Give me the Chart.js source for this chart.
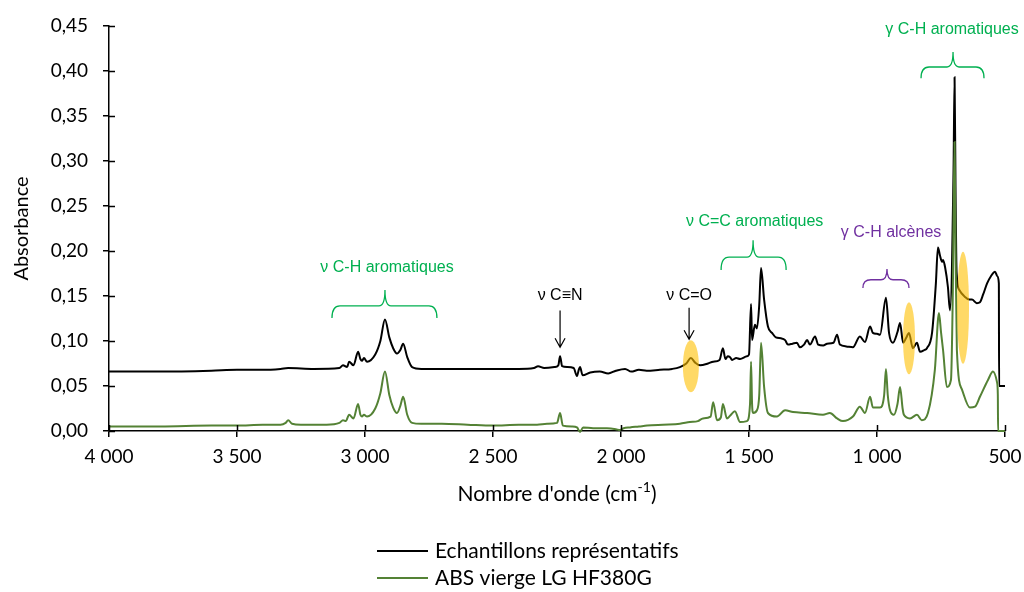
<!DOCTYPE html>
<html lang="fr">
<head>
  <meta charset="UTF-8">
  <title>Spectre IR</title>
  <script src="https://cdn.jsdelivr.net/npm/chart.js@4.4.1/dist/chart.umd.min.js"></script>
  <style>
    body { margin: 0; background: #fff; }
  </style>
</head>
<body>
  <canvas id="irChart" width="1024" height="592"></canvas>
  <script>
    // Echantillons représentatifs (noir)
    const blackWn = [4000, 3800, 3600, 3500, 3400, 3330, 3300, 3200, 3100, 3086, 3070, 3062, 3045, 3027, 3018, 3012, 3004, 2992, 2960, 2940, 2922, 2905, 2890, 2875, 2862, 2851, 2835, 2816, 2780, 2700, 2600, 2500, 2400, 2340, 2324, 2300, 2260, 2245, 2238, 2230, 2210, 2185, 2172, 2165, 2160, 2150, 2120, 2083, 2050, 2020, 1984, 1960, 1930, 1900, 1848, 1800, 1770, 1745, 1727, 1710, 1691, 1660, 1640, 1615, 1602, 1592, 1583, 1574, 1566, 1550, 1535, 1508, 1500, 1492, 1488, 1477, 1469, 1460, 1453, 1441, 1426, 1410, 1395, 1375, 1359, 1348, 1330, 1313, 1301, 1285, 1273, 1262, 1242, 1230, 1210, 1195, 1170, 1156, 1145, 1120, 1094, 1067, 1047, 1027, 1016, 1000, 988, 965, 953, 938, 920, 910, 898, 887, 875, 860, 844, 832, 815, 805, 785, 770, 762, 754, 746, 742, 734, 723, 715, 701, 697, 693, 689, 679, 656, 640, 629, 610, 598, 585, 570, 555, 539, 530, 524, 523, 500];
    const blackAbs = [0.066, 0.066, 0.067, 0.068, 0.068, 0.069, 0.070, 0.069, 0.070, 0.073, 0.071, 0.077, 0.073, 0.088, 0.080, 0.078, 0.081, 0.077, 0.085, 0.100, 0.124, 0.104, 0.092, 0.086, 0.090, 0.097, 0.082, 0.071, 0.069, 0.069, 0.069, 0.069, 0.069, 0.070, 0.072, 0.070, 0.071, 0.073, 0.083, 0.072, 0.071, 0.070, 0.061, 0.068, 0.071, 0.062, 0.065, 0.066, 0.064, 0.067, 0.069, 0.066, 0.068, 0.067, 0.068, 0.069, 0.071, 0.075, 0.081, 0.076, 0.073, 0.075, 0.077, 0.079, 0.092, 0.080, 0.083, 0.082, 0.079, 0.081, 0.080, 0.083, 0.085, 0.141, 0.101, 0.118, 0.114, 0.140, 0.181, 0.146, 0.116, 0.109, 0.104, 0.103, 0.101, 0.096, 0.097, 0.098, 0.093, 0.096, 0.101, 0.096, 0.105, 0.096, 0.095, 0.097, 0.098, 0.107, 0.096, 0.094, 0.093, 0.105, 0.099, 0.116, 0.109, 0.108, 0.107, 0.148, 0.109, 0.098, 0.110, 0.120, 0.098, 0.103, 0.109, 0.092, 0.098, 0.088, 0.090, 0.092, 0.109, 0.164, 0.204, 0.195, 0.188, 0.190, 0.182, 0.160, 0.134, 0.290, 0.393, 0.260, 0.176, 0.157, 0.149, 0.146, 0.146, 0.142, 0.143, 0.152, 0.164, 0.172, 0.177, 0.172, 0.164, 0.050, 0.050];

    // ABS vierge LG HF380G (vert)
    const greenWn = [4000, 3800, 3600, 3500, 3400, 3330, 3310, 3300, 3285, 3250, 3150, 3100, 3086, 3075, 3062, 3045, 3027, 3018, 3012, 3004, 2992, 2960, 2940, 2922, 2905, 2890, 2875, 2862, 2851, 2835, 2816, 2780, 2700, 2600, 2500, 2400, 2328, 2289, 2250, 2238, 2227, 2190, 2172, 2160, 2148, 2109, 2055, 2020, 2004, 1990, 1965, 1930, 1898, 1836, 1770, 1731, 1700, 1680, 1650, 1640, 1625, 1610, 1602, 1586, 1574, 1555, 1535, 1508, 1496, 1492, 1488, 1484, 1469, 1460, 1453, 1441, 1426, 1391, 1359, 1328, 1273, 1211, 1184, 1156, 1133, 1094, 1067, 1047, 1027, 1016, 988, 972, 965, 958, 949, 934, 920, 910, 900, 895, 871, 844, 825, 801, 774, 758, 750, 742, 727, 711, 704, 697, 693, 688, 668, 637, 617, 598, 566, 547, 531, 528, 527, 500];
    const greenAbs = [0.005, 0.005, 0.006, 0.006, 0.007, 0.007, 0.009, 0.012, 0.008, 0.007, 0.007, 0.009, 0.012, 0.011, 0.018, 0.014, 0.030, 0.018, 0.016, 0.018, 0.016, 0.025, 0.042, 0.066, 0.040, 0.026, 0.020, 0.028, 0.038, 0.018, 0.009, 0.008, 0.008, 0.007, 0.006, 0.007, 0.007, 0.008, 0.009, 0.020, 0.006, 0.005, 0.004, -0.001, 0.004, 0.003, 0.003, 0.002, 0.001, 0.003, 0.004, 0.005, 0.006, 0.007, 0.008, 0.010, 0.011, 0.014, 0.016, 0.032, 0.012, 0.015, 0.030, 0.014, 0.017, 0.022, 0.010, 0.011, 0.030, 0.077, 0.030, 0.020, 0.023, 0.040, 0.098, 0.049, 0.020, 0.016, 0.023, 0.021, 0.020, 0.018, 0.020, 0.014, 0.011, 0.016, 0.027, 0.020, 0.038, 0.026, 0.026, 0.040, 0.069, 0.040, 0.023, 0.018, 0.030, 0.049, 0.025, 0.018, 0.014, 0.018, 0.012, 0.020, 0.068, 0.131, 0.110, 0.090, 0.049, 0.057, 0.150, 0.321, 0.200, 0.090, 0.046, 0.026, 0.027, 0.038, 0.057, 0.066, 0.054, 0.040, 0.0, 0.0];

    const seriesLabels = ['Echantillons représentatifs', 'ABS vierge LG HF380G'];
    const xTicks = [4000, 3500, 3000, 2500, 2000, 1500, 1000, 500];
    const yTicks = [0, 0.05, 0.10, 0.15, 0.20, 0.25, 0.30, 0.35, 0.40, 0.45];

    // annotations, en unités des axes (nombre d'onde, absorbance)
    const braces = [
      { from: 3129, to: 2719, tip: 2922, end: 0.1256, top: 0.1567, color: '#00b050', text: 'ν C-H aromatiques', textWn: 2914, textAbs: 0.182 },
      { from: 1609, to: 1355, tip: 1484, end: 0.179, top: 0.212, color: '#00b050', text: 'ν C=C aromatiques', textWn: 1478, textAbs: 0.233 },
      { from: 1055, to: 875, tip: 961, end: 0.159, top: 0.180, color: '#7030a0', text: 'γ C-H alcènes', textWn: 945, textAbs: 0.220 },
      { from: 828, to: 582, tip: 703, end: 0.392, top: 0.421, color: '#00b050', text: 'γ C-H aromatiques', textWn: 707, textAbs: 0.4455 }
    ];
    const arrows = [
      { wn: 2238, text: 'ν C≡N', textAbs: 0.151, from: 0.134, to: 0.093 },
      { wn: 1734, text: 'ν C=O', textAbs: 0.151, from: 0.137, to: 0.102 }
    ];
    const highlights = [
      { wn: 1727, abs: 0.072, rx: 8, ry: 26 },
      { wn: 875, abs: 0.103, rx: 6, ry: 36 },
      { wn: 664, abs: 0.137, rx: 6, ry: 56 }
    ];

    const toPoints = (xs, ys) => xs.map((w, i) => ({ x: w, y: ys[i] }));
    const tickFont = { family: 'Lato', size: 19 };
    const noteFont = '16px "Liberation Sans"';

    function frNumber(v) {
      if (v >= 1000) return Math.floor(v / 1000) + ' ' + String(v % 1000).padStart(3, '0');
      return String(v);
    }

    const extras = {
      id: 'extras',
      afterDraw(chart) {
        const { ctx, scales: { x, y } } = chart;
        const area = chart.chartArea;
        ctx.save();

        // ticks qui traversent les axes (style Excel)
        ctx.strokeStyle = '#000';
        ctx.lineWidth = 1.5;
        ctx.beginPath();
        xTicks.forEach(t => {
          const px = Math.round(x.getPixelForValue(t)) + 0.5;
          ctx.moveTo(px, area.bottom);
          ctx.lineTo(px, area.bottom - 6);
        });
        yTicks.forEach(t => {
          const py = Math.round(y.getPixelForValue(t)) + 0.5;
          ctx.moveTo(area.left, py);
          ctx.lineTo(area.left + 6, py);
        });
        ctx.stroke();

        // zones surlignées
        ctx.fillStyle = 'rgba(255, 192, 0, 0.6)';
        highlights.forEach(h => {
          ctx.beginPath();
          ctx.ellipse(x.getPixelForValue(h.wn), y.getPixelForValue(h.abs), h.rx, h.ry, 0, 0, Math.PI * 2);
          ctx.fill();
        });

        // accolades + étiquettes
        ctx.font = noteFont;
        ctx.textAlign = 'center';
        ctx.textBaseline = 'middle';
        ctx.lineWidth = 1.3;
        braces.forEach(b => {
          const xl = x.getPixelForValue(b.from);
          const xr = x.getPixelForValue(b.to);
          const xt = x.getPixelForValue(b.tip);
          const ye = y.getPixelForValue(b.end);
          const yt = y.getPixelForValue(b.top);
          const ym = ye - (ye - yt) * 0.43;
          const r = 8, rt = 6;
          ctx.strokeStyle = b.color;
          ctx.beginPath();
          ctx.moveTo(xl, ye);
          ctx.quadraticCurveTo(xl, ym, xl + r, ym);
          ctx.lineTo(xt - rt, ym);
          ctx.quadraticCurveTo(xt, ym, xt, yt);
          ctx.quadraticCurveTo(xt, ym, xt + rt, ym);
          ctx.lineTo(xr - r, ym);
          ctx.quadraticCurveTo(xr, ym, xr, ye);
          ctx.stroke();
          ctx.fillStyle = b.color;
          ctx.fillText(b.text, x.getPixelForValue(b.textWn), y.getPixelForValue(b.textAbs));
        });

        // flèches
        ctx.strokeStyle = '#000';
        ctx.fillStyle = '#000';
        ctx.lineWidth = 1.2;
        arrows.forEach(a => {
          const px = x.getPixelForValue(a.wn);
          const y1 = y.getPixelForValue(a.from);
          const y2 = y.getPixelForValue(a.to);
          ctx.beginPath();
          ctx.moveTo(px, y1);
          ctx.lineTo(px, y2);
          ctx.moveTo(px - 5, y2 - 9);
          ctx.lineTo(px, y2);
          ctx.lineTo(px + 5, y2 - 9);
          ctx.stroke();
          ctx.fillText(a.text, px, y.getPixelForValue(a.textAbs));
        });

        // titre de l'axe x avec exposant
        const cx = (area.left + area.right) / 2;
        const ty = 494;
        const main = "Nombre d'onde (cm";
        const sup = '-1';
        ctx.font = '21px Lato';
        const w1 = ctx.measureText(main).width;
        const w3 = ctx.measureText(')').width;
        ctx.font = '14px Lato';
        const w2 = ctx.measureText(sup).width;
        let sx = cx - (w1 + w2 + w3) / 2;
        ctx.textAlign = 'left';
        ctx.fillStyle = '#000';
        ctx.font = '21px Lato';
        ctx.fillText(main, sx, ty);
        ctx.font = '14px Lato';
        ctx.fillText(sup, sx + w1, ty - 7);
        ctx.font = '21px Lato';
        ctx.fillText(')', sx + w1 + w2, ty);

        // légende
        ctx.font = '21px Lato';
        chart.data.datasets.forEach((ds, i) => {
          const ly = 551 + i * 27;
          ctx.strokeStyle = ds.borderColor;
          ctx.lineWidth = 2;
          ctx.beginPath();
          ctx.moveTo(377, ly);
          ctx.lineTo(428, ly);
          ctx.stroke();
          ctx.fillStyle = '#000';
          ctx.fillText(ds.label, 435, ly);
        });

        ctx.restore();
      }
    };

    new Chart(document.getElementById('irChart'), {
      type: 'line',
      data: {
        datasets: [
          {
            label: seriesLabels[0],
            data: toPoints(blackWn, blackAbs),
            borderColor: '#000000',
            borderWidth: 2,
            pointRadius: 0,
            cubicInterpolationMode: 'monotone',
            clip: false,
            order: 1
          },
          {
            label: seriesLabels[1],
            data: toPoints(greenWn, greenAbs),
            borderColor: '#548235',
            borderWidth: 2,
            pointRadius: 0,
            cubicInterpolationMode: 'monotone',
            clip: false,
            order: 0
          }
        ]
      },
      options: {
        responsive: false,
        animation: false,
        layout: { padding: { left: 6, right: 19, top: 26, bottom: 82 } },
        plugins: {
          legend: { display: false },
          tooltip: { enabled: false }
        },
        scales: {
          x: {
            type: 'linear',
            reverse: true,
            min: 500,
            max: 4000,
            afterFit: s => { s.height = 79; s.paddingLeft = 0; s.paddingRight = 0; },
            afterBuildTicks: s => { s.ticks = xTicks.map(v => ({ value: v })); },
            ticks: { font: tickFont, color: '#000', padding: 8, maxRotation: 0, callback: v => frNumber(v) },
            grid: { drawOnChartArea: false, tickLength: 6, color: '#000', lineWidth: 1.5 },
            border: { color: '#000', width: 1.5 }
          },
          y: {
            min: 0,
            max: 0.45,
            afterFit: s => { s.width = 103; s.paddingTop = 0; s.paddingBottom = 0; },
            afterBuildTicks: s => { s.ticks = yTicks.map(v => ({ value: v })); },
            ticks: { font: tickFont, color: '#000', padding: 15, callback: v => v.toFixed(2).replace('.', ',') },
            grid: { drawOnChartArea: false, tickLength: 6, color: '#000', lineWidth: 1.5 },
            border: { color: '#000', width: 1.5 },
            title: { display: true, text: 'Absorbance', color: '#000', font: { family: 'Lato', size: 20 }, padding: 4 }
          }
        }
      },
      plugins: [extras]
    });
  </script>
</body>
</html>
